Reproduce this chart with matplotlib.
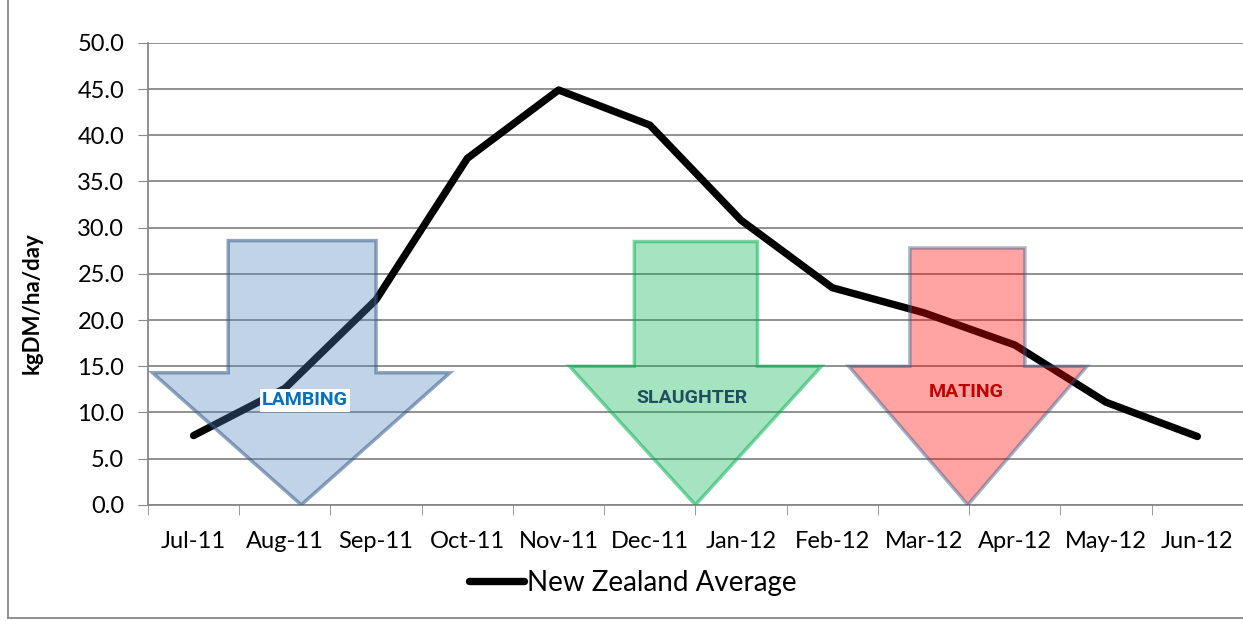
import matplotlib
matplotlib.use("Agg")
import matplotlib.pyplot as plt
from matplotlib.patches import Polygon
from matplotlib.lines import Line2D

months = ["Jul-11", "Aug-11", "Sep-11", "Oct-11", "Nov-11", "Dec-11",
          "Jan-12", "Feb-12", "Mar-12", "Apr-12", "May-12", "Jun-12"]
nz_average = [7.5, 12.6, 22.2, 37.5, 44.9, 41.1, 30.8, 23.5, 20.8, 17.3, 11.1, 7.4]
yticks = [0, 5, 10, 15, 20, 25, 30, 35, 40, 45, 50]

plt.rcParams["font.family"] = ["Lato", "DejaVu Sans"]

fig = plt.figure(figsize=(12.43, 6.21), dpi=100)
ax = fig.add_axes([0.119, 0.187, 0.881, 0.744])

x = list(range(len(months)))
ax.plot(x, nz_average, color="black", lw=5.3, solid_capstyle="round",
        solid_joinstyle="round", zorder=2)

ax.set_xlim(-0.5, len(months) - 0.5)
ax.set_ylim(0, 50)
ax.set_yticks(yticks)
ax.set_yticklabels([f"{v:.1f}" for v in yticks], fontsize=17)
ax.set_xticks(x)
ax.set_xticklabels(months, fontsize=17)
ax.set_xticks([i - 0.5 for i in range(len(months) + 1)], minor=True)
ax.tick_params(axis="x", which="major", length=0, pad=19)
ax.tick_params(axis="x", which="minor", length=7, color="#888888", direction="out")
ax.tick_params(axis="y", length=7, color="#888888", direction="out", pad=10)
ax.grid(axis="y", color="#888888", lw=1.3, zorder=0)
ax.set_axisbelow(True)
for s in ["top", "right"]:
    ax.spines[s].set_visible(False)
for s in ["left", "bottom"]:
    ax.spines[s].set_color("#888888")
    ax.spines[s].set_linewidth(1.3)
ax.set_ylabel("kgDM/ha/day", fontsize=16, fontweight="bold")
ax.yaxis.set_label_coords(-0.096, 0.437)


def down_arrow(x0, x1, hx0, hx1, top, neck, face, edge):
    xm = (hx0 + hx1) / 2
    pts = [(x0, top), (x1, top), (x1, neck), (hx1, neck), (xm, 0.0),
           (hx0, neck), (x0, neck)]
    ax.add_patch(Polygon(pts, closed=True, facecolor=face, edgecolor=edge,
                         lw=2.5, zorder=3))


down_arrow(0.38, 2.0, -0.45, 2.81, 28.6, 14.3,
           (0.31, 0.51, 0.74, 0.35), (0.22, 0.36, 0.54, 0.55))
down_arrow(4.83, 6.18, 4.12, 6.88, 28.5, 15.0,
           (0.0, 0.69, 0.31, 0.35), (0.0, 0.69, 0.31, 0.5))
down_arrow(7.85, 9.11, 7.18, 9.79, 27.8, 15.0,
           (1.0, 0.0, 0.0, 0.36), (0.22, 0.36, 0.54, 0.45))

label_font = ["Roboto", "DejaVu Sans"]
ax.text(1.22, 11.3, "LAMBING", color="#0070c0", fontsize=14, fontweight="bold",
        family=label_font, ha="center", va="center", zorder=4,
        bbox=dict(facecolor="white", edgecolor="none", pad=1.5))
ax.text(5.46, 11.6, "SLAUGHTER", color="#1f4e5f", fontsize=14, fontweight="bold",
        family=label_font, ha="center", va="center", zorder=4)
ax.text(8.47, 12.2, "MATING", color="#c00000", fontsize=14, fontweight="bold",
        family=label_font, ha="center", va="center", zorder=4)

handle = Line2D([], [], color="black", lw=5.3, solid_capstyle="round")
fig.legend([handle], ["New Zealand Average"], loc="center",
           bbox_to_anchor=(0.509, 1 - 583 / 621), frameon=False, fontsize=20,
           handlelength=2.0, handletextpad=0.1)

# outer chart frame
fig.add_artist(Line2D([8 / 1243, 8 / 1243], [0.005, 1], color="#888888", lw=1.3))
fig.add_artist(Line2D([8 / 1243, 1], [0.005, 0.005], color="#888888", lw=1.3))

fig.savefig("out.png", dpi=100)
